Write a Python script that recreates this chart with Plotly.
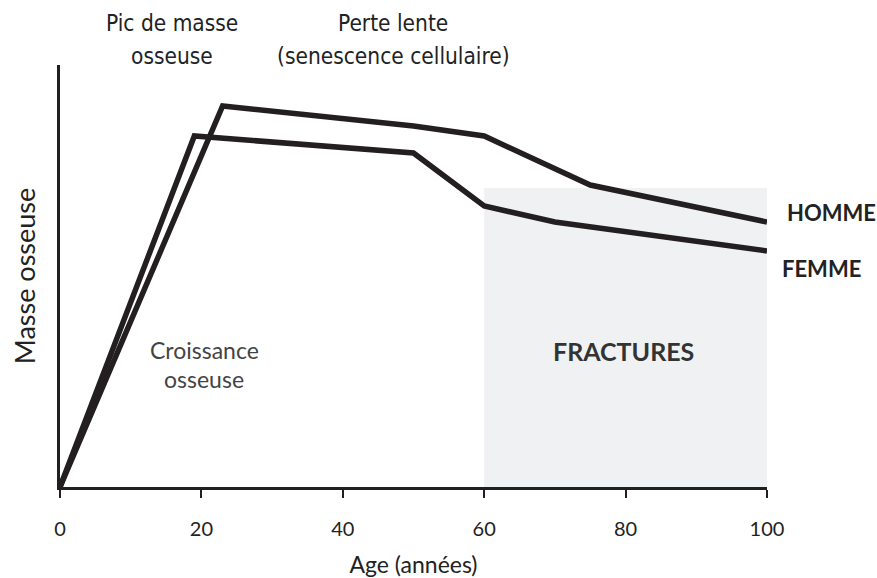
import plotly.graph_objects as go

# Bone mass over the lifespan (arbitrary units)
age_homme = [0, 23, 50, 60, 75, 100]
masse_homme = [0, 381, 361, 351, 302, 265]

age_femme = [0, 19, 50, 60, 70, 100]
masse_femme = [0, 351, 334, 281, 265, 236]

x_ticks = [0, 20, 40, 60, 80, 100]

# Fracture risk zone
zone_x = [60, 100]
zone_top = 299

ink = "#231f20"
fig = go.Figure()

fig.add_shape(type="rect", x0=zone_x[0], x1=zone_x[1], y0=0, y1=zone_top,
              xref="x", yref="y", fillcolor="#f0f1f3", line_width=0, layer="below")

for xs, ys, name in [(age_homme, masse_homme, "HOMME"), (age_femme, masse_femme, "FEMME")]:
    fig.add_trace(go.Scatter(x=xs, y=ys, mode="lines", name=name,
                             line=dict(color=ink, width=5.5), hoverinfo="skip"))

fig.update_layout(
    width=877, height=578,
    margin=dict(l=60, r=110, t=65, b=91),
    paper_bgcolor="white", plot_bgcolor="white",
    showlegend=False,
    font=dict(family="Lato", color="#222"),
    xaxis=dict(range=[0, 100], tickvals=x_ticks, showgrid=False, zeroline=False,
               showline=True, linecolor=ink, linewidth=3, automargin=False,
               ticks="outside", ticklen=8, tickwidth=2, tickcolor=ink,
               tickfont=dict(size=20, color="#222"), ticklabelstandoff=14,
               title=dict(text="Age (années)", font=dict(size=23), standoff=18)),
    yaxis=dict(range=[0, 422], showticklabels=False, showgrid=False, zeroline=False,
               showline=True, linecolor=ink, linewidth=3, ticks="", automargin=False,
               title=dict(text="Masse osseuse", font=dict(size=27), standoff=14)),
)

narrow = dict(family="DejaVu Sans Condensed, Lato", size=22.5, color="#222")
annots = [
    dict(text="Pic de masse", px=172, py=23, font=narrow),
    dict(text="osseuse", px=172, py=56, font=narrow),
    dict(text="Perte lente", px=393, py=23, font=narrow),
    dict(text="(senescence cellulaire)", px=393, py=56, font=narrow),
    dict(text="Croissance", px=204, py=350, font=dict(size=23, color="#444")),
    dict(text="osseuse", px=204, py=379, font=dict(size=23, color="#444")),
    dict(text="<b>FRACTURES</b>", px=623, py=351, font=dict(size=25, color="#333")),
    dict(text="<b>HOMME</b>", px=831, py=212, font=dict(size=22, color="#222")),
    dict(text="<b>FEMME</b>", px=821, py=268, font=dict(size=22, color="#222")),
]
W, H = 877, 578
l, r, t, b = 60, 110, 65, 91
for a in annots:
    fx = (a["px"] - l) / (W - l - r)
    fy = (H - b - a["py"]) / (H - t - b)
    fig.add_annotation(x=fx, y=fy, xref="paper", yref="paper", text=a["text"],
                       showarrow=False, font=a["font"], align="center",
                       xanchor="center", yanchor="middle")

fig.write_html("out.html")
